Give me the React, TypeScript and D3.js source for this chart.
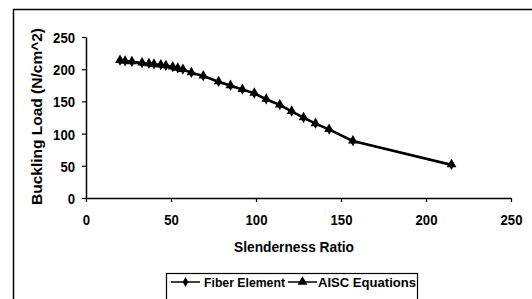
import { useEffect, useRef } from "react"
import * as d3 from "d3"

// slenderness ratio for each analysed column
const ratios = [20, 23, 27, 33, 37, 40, 44, 47, 51, 54, 57, 62, 69, 78, 85, 92, 99, 106, 114, 121, 128, 135, 143, 157, 215]
// buckling load (N/cm^2)
const fiberLoads = [213, 212, 211, 209, 208, 207, 206, 205, 203, 201, 199, 194, 189, 180, 174, 168, 162, 153, 144, 134, 124, 115, 106, 88, 51]
const aiscLoads = [214, 213, 212, 210, 209, 208, 207, 206, 204, 202, 200, 195, 190, 181, 175, 169, 163, 154, 145, 135, 125, 116, 107, 89, 52]

const xTicks = [0, 50, 100, 150, 200, 250]
const yTicks = [0, 50, 100, 150, 200, 250]
const seriesNames = ["Fiber Element", "AISC Equations"]

const FONT = "'Liberation Sans', Arial, sans-serif"

// the scan uses a narrow bold face, so squeeze glyphs to the measured widths
const digitWidth = (s: string) => s.length * 7.3

export default function App() {
  const svgRef = useRef<SVGSVGElement>(null)

  useEffect(() => {
    if (!svgRef.current) return
    const svg = d3.select(svgRef.current)
    svg.selectAll("*").remove()

    const width = 532
    const height = 299

    svg.append("rect").attr("width", width).attr("height", height).attr("fill", "#fff")

    // outer chart frame
    svg
      .append("rect")
      .attr("x", 13.5)
      .attr("y", 9.5)
      .attr("width", 540)
      .attr("height", 320)
      .attr("fill", "none")
      .attr("stroke", "#000")
      .attr("stroke-width", 1.5)

    const x = d3.scaleLinear().domain([0, 250]).range([86, 511])
    const y = d3.scaleLinear().domain([0, 250]).range([198, 37])

    // x-axis
    const xAxis = svg
      .append("g")
      .attr("transform", `translate(0, ${y(0)})`)
      .call(d3.axisBottom(x).tickValues(xTicks).tickSize(4).tickSizeOuter(0).tickPadding(9))
    xAxis.select(".domain").attr("stroke-width", 1.5)
    xAxis.selectAll<SVGTextElement, number>(".tick text").attr("dy", "0.95em")

    // y-axis
    const yAxis = svg
      .append("g")
      .attr("transform", `translate(${x(0)}, 0)`)
      .call(d3.axisLeft(y).tickValues(yTicks).tickSize(4).tickSizeOuter(0).tickPadding(7))
    yAxis.select(".domain").attr("stroke-width", 1.5)
    yAxis.selectAll<SVGTextElement, number>(".tick text").attr("dy", "0.36em")

    svg
      .selectAll<SVGTextElement, number>(".tick text")
      .attr("font-family", FONT)
      .attr("font-weight", "bold")
      .attr("font-size", 15)
      .attr("fill", "#000")
      .attr("textLength", (d) => digitWidth(String(d)))
      .attr("lengthAdjust", "spacingAndGlyphs")
    svg.selectAll(".tick line").attr("stroke-width", 1.2)

    // axis titles
    svg
      .append("text")
      .attr("x", 294)
      .attr("y", 252)
      .attr("text-anchor", "middle")
      .attr("font-family", FONT)
      .attr("font-weight", "bold")
      .attr("font-size", 15)
      .attr("textLength", 120)
      .attr("lengthAdjust", "spacingAndGlyphs")
      .text("Slenderness Ratio")

    svg
      .append("text")
      .attr("transform", "translate(42, 116.5) rotate(-90)")
      .attr("text-anchor", "middle")
      .attr("font-family", FONT)
      .attr("font-weight", "bold")
      .attr("font-size", 15)
      .attr("textLength", 177)
      .attr("lengthAdjust", "spacingAndGlyphs")
      .text("Buckling Load (N/cm^2)")

    const line = d3
      .line<number>()
      .x((_, i) => x(ratios[i]))
      .y((d) => y(d))

    const triangle = d3.symbol().type(d3.symbolTriangle).size(42)
    const diamond = d3.symbol().type(d3.symbolDiamond).size(28)

    svg
      .append("path")
      .attr("d", line(fiberLoads))
      .attr("fill", "none")
      .attr("stroke", "#000")
      .attr("stroke-width", 2)
    svg
      .selectAll(".fiber")
      .data(fiberLoads)
      .enter()
      .append("path")
      .attr("transform", (d, i) => `translate(${x(ratios[i])}, ${y(d)})`)
      .attr("d", diamond)
      .attr("fill", "#000")

    svg
      .append("path")
      .attr("d", line(aiscLoads))
      .attr("fill", "none")
      .attr("stroke", "#000")
      .attr("stroke-width", 2)
    svg
      .selectAll(".aisc")
      .data(aiscLoads)
      .enter()
      .append("path")
      .attr("transform", (d, i) => `translate(${x(ratios[i])}, ${y(d)})`)
      .attr("d", triangle)
      .attr("fill", "#000")

    // legend
    const legend = svg.append("g")
    legend
      .append("rect")
      .attr("x", 166.5)
      .attr("y", 273.5)
      .attr("width", 251)
      .attr("height", 40)
      .attr("fill", "#fff")
      .attr("stroke", "#000")
      .attr("stroke-width", 1.2)

    const items = [
      { name: seriesNames[0], x0: 171, tx: 204, tw: 81, sym: diamond },
      { name: seriesNames[1], x0: 288, tx: 318, tw: 98, sym: triangle },
    ]
    items.forEach((it) => {
      legend
        .append("line")
        .attr("x1", it.x0)
        .attr("x2", it.x0 + 29)
        .attr("y1", 282)
        .attr("y2", 282)
        .attr("stroke", "#000")
        .attr("stroke-width", 1.5)
      legend
        .append("path")
        .attr("transform", `translate(${it.x0 + 14.5}, 282)`)
        .attr("d", it.sym)
        .attr("fill", "#000")
      legend
        .append("text")
        .attr("x", it.tx)
        .attr("y", 287)
        .attr("font-family", FONT)
        .attr("font-weight", "bold")
        .attr("font-size", 13)
        .attr("textLength", it.tw)
        .attr("lengthAdjust", "spacingAndGlyphs")
        .text(it.name)
    })
  }, [])

  return (
    <div style={{ position: "absolute", left: 0, top: 0 }}>
      <svg ref={svgRef} width={532} height={299} style={{ display: "block" }} />
    </div>
  )
}
